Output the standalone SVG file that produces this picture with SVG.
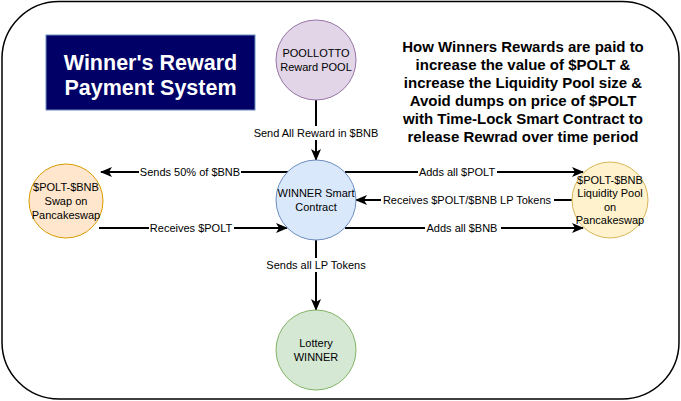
<svg xmlns="http://www.w3.org/2000/svg" width="681" height="401" viewBox="0 0 681 401">
<defs>
<style>
.frame{fill:#ffffff;stroke:#000000;stroke-width:1.5}
.node text,.lbl{font-family:"Liberation Sans",Arial,sans-serif;font-size:11px;fill:#000000;text-anchor:middle}
.edge{stroke:#000000;stroke-width:2;fill:none;marker-end:url(#arr)}
.lblbg{fill:#ffffff}
.title{font-family:"Liberation Sans",Arial,sans-serif;font-weight:bold;font-size:21.5px;fill:#ffffff;text-anchor:middle}
.desc{font-family:"Liberation Sans",Arial,sans-serif;font-weight:bold;font-size:15px;fill:#000000;text-anchor:middle}
</style>
<marker id="arr" viewBox="0 0 12 10" refX="11" refY="5" markerWidth="12" markerHeight="10" orient="auto" markerUnits="userSpaceOnUse">
<path d="M0,0 L12,5 L0,10 L3,5 z" fill="#000000"/>
</marker>
</defs>
<rect class="frame" x="2" y="1.5" width="677" height="397.5" rx="57" ry="57"/>

<g id="title">
<rect x="46" y="35" width="209" height="75" fill="#000066" stroke="#6c8ebf" stroke-width="1"/>
<text class="title" x="150.5" y="70">Winner's Reward</text>
<text class="title" x="150.5" y="95">Payment System</text>
</g>

<g id="description">
<text class="desc" x="523" y="52">How Winners Rewards are paid to</text>
<text class="desc" x="523" y="70">increase the value of $POLT &amp;</text>
<text class="desc" x="523" y="88">increase the Liquidity Pool size &amp;</text>
<text class="desc" x="523" y="106">Avoid dumps on price of $POLT</text>
<text class="desc" x="523" y="124">with Time-Lock Smart Contract to</text>
<text class="desc" x="523" y="142">release Rewrad over time period</text>
</g>

<g id="connectors">
<line class="edge" x1="316" y1="100" x2="316" y2="160"/>
<line class="edge" x1="288" y1="172" x2="101" y2="172"/>
<line class="edge" x1="99" y1="228" x2="287" y2="228"/>
<line class="edge" x1="345" y1="172" x2="583" y2="172"/>
<line class="edge" x1="572" y1="200" x2="356" y2="200"/>
<line class="edge" x1="345" y1="228" x2="583" y2="228"/>
<line class="edge" x1="316" y1="240" x2="316" y2="310"/>
<rect class="lblbg" x="253" y="126" width="126" height="14"/>
<text class="lbl" x="316" y="137">Send All Reward in $BNB</text>
<rect class="lblbg" x="139" y="165" width="102" height="14"/>
<text class="lbl" x="190" y="176">Sends 50% of $BNB</text>
<rect class="lblbg" x="149" y="221" width="85" height="14"/>
<text class="lbl" x="191" y="232">Receives $POLT</text>
<rect class="lblbg" x="418" y="165" width="79" height="14"/>
<text class="lbl" x="457" y="176">Adds all $POLT</text>
<rect class="lblbg" x="381" y="193" width="173" height="14"/>
<text class="lbl" x="467" y="204">Receives $POLT/$BNB LP Tokens</text>
<rect class="lblbg" x="425" y="221" width="76" height="14"/>
<text class="lbl" x="462" y="232">Adds all $BNB</text>
<rect class="lblbg" x="265" y="258" width="103" height="14"/>
<text class="lbl" x="316" y="269">Sends all LP Tokens</text>
</g>

<g id="pool" class="node">
<circle cx="316" cy="60" r="40" fill="#e1d5e7" stroke="#9673a6"/>
<text x="316" y="57">POOLLOTTO</text>
<text x="316" y="71">Reward POOL</text>
</g>

<g id="winner-contract" class="node">
<circle cx="316" cy="200" r="40" fill="#dae8fc" stroke="#6c8ebf"/>
<text x="316" y="197">WINNER Smart</text>
<text x="316" y="211">Contract</text>
</g>

<g id="swap" class="node">
<circle cx="66" cy="201" r="37" fill="#ffe6cc" stroke="#d79b00"/>
<text x="66" y="191">$POLT-$BNB</text>
<text x="66" y="205">Swap on</text>
<text x="66" y="219">Pancakeswap</text>
</g>

<g id="liquidity-pool" class="node">
<circle cx="610" cy="200" r="38" fill="#fff2cc" stroke="#d6b656"/>
<text x="610" y="184">$POLT-$BNB</text>
<text x="610" y="197">Liquidity Pool</text>
<text x="610" y="211">on</text>
<text x="610" y="224">Pancakeswap</text>
</g>

<g id="lottery-winner" class="node">
<circle cx="316" cy="350" r="40" fill="#d5e8d4" stroke="#82b366"/>
<text x="316" y="347">Lottery</text>
<text x="316" y="361">WINNER</text>
</g>
</svg>
